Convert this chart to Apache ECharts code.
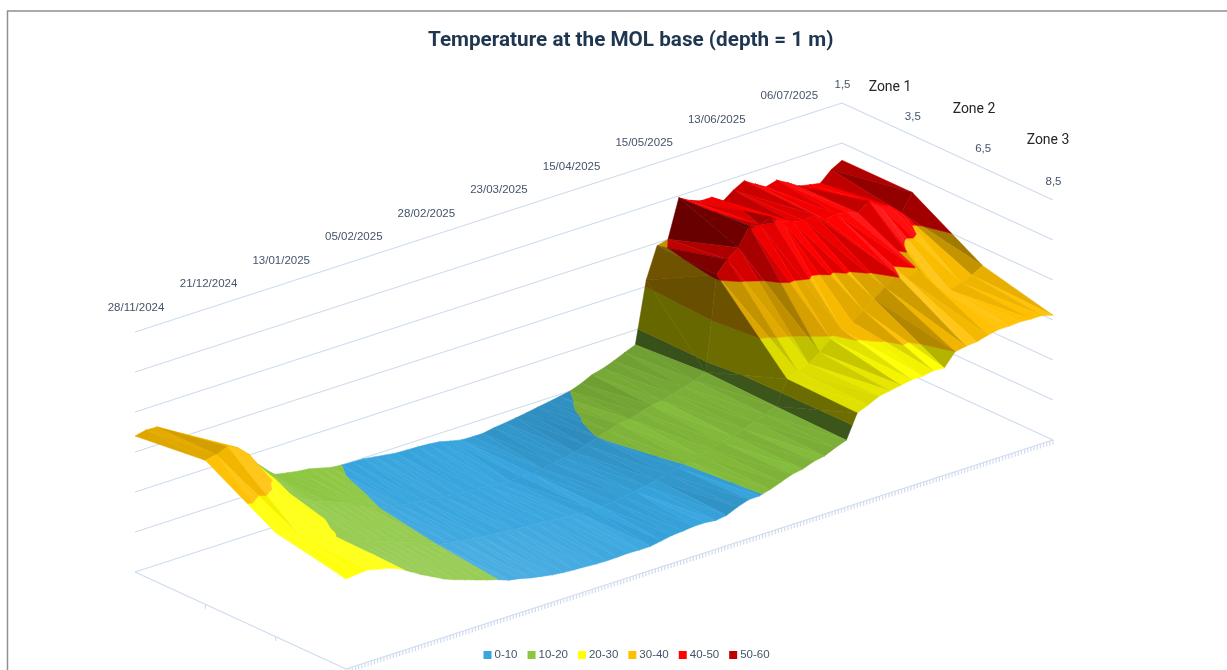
<!DOCTYPE html>
<html><head><meta charset="utf-8">
<style>html,body{margin:0;padding:0;background:#fff}#c{width:1227px;height:670px}</style>
<script src="https://cdn.jsdelivr.net/npm/echarts@6/dist/echarts.min.js"></script>
</head><body><div id="c"></div>
<script>
const titleText = 'Temperature at the MOL base (depth = 1 m)';
const dateLabels = ['28/11/2024','21/12/2024','13/01/2025','05/02/2025','28/02/2025','23/03/2025','15/04/2025','15/05/2025','13/06/2025','06/07/2025'];
const depthLabels = ['1,5','3,5','6,5','8,5'];
const zoneLabels = ['Zone 1','Zone 2','Zone 3'];
const bandNames = ['0-10','10-20','20-30','30-40','40-50','50-60'];
const bandColors = ['#37a5de','#8cc63f','#ffff00','#ffc000','#ff0000','#c00000'];
// temperature along time at each depth
const depth15 = [34,34.6,34.5,31,29,27,26,24.5,23.5,22.5,20.5,17,13.5,13,12.5,12,11.7,11,10.3,10,9.9,9.8,9.4,9,8.6,8.5,8.4,8.2,7.9,7.2,6.6,6.5,6.5,7,7.3,7.7,8.1,8.6,9,9.5,10,11,12.3,13,14,15.2,16.3,31.6,39.3,40,49.5,48,47,47,45,47,48.5,46.8,45.2,46,44.5,42.8,42.2,41.7,44.2,45.7];
const depth35 = [36,36.5,37.7,36.5,34,30,26.5,23,20,18.5,17,16,15,14,12.5,11,10,9.4,8.9,8.6,8.2,8,7.6,7.4,7,6.9,6.6,6.3,6.2,6.5,6.3,6.6,7.2,7.6,8.1,9,10,10.8,11.6,11.9,12.8,13.6,13.9,14.7,15.5,16.3,17.5,41,44,46,50.5,50,51,49,48,47.5,48,46,46.5,46,45,47,45,44,41.5,45.7];
const depth65 = [26,25,24,23,22,20.8,19.4,18.2,17,16,15,14,13,12,11,9.8,9.4,8.9,8.6,8.2,8,7.8,7.4,7.2,7.1,6.8,6.6,6.4,6.1,6.3,6,6.4,6.8,7.2,7.7,8.3,8.9,9.6,10.3,11,11.6,12.4,13.1,14,15,15.9,17,23,24,25,27,29.5,31,32,34,36,38,40.5,38.5,39.8,36,33,32,33,34,35.5];
const depth85 = [22.5,22.8,23,22.3,21.7,20.6,19,17.4,16,14.6,13.5,12.6,11.7,10.8,10,9,8.5,7.8,7.3,6.8,6.5,6.3,6.2,6,5.9,6,6.1,6,6,6.5,7,7.2,7.5,7.5,7.2,7.6,8.8,9.7,9.8,10.5,11.5,12.5,13,14,14.5,15.7,16.7,22.6,23.7,25,25.5,26,26.5,26.5,27,26.8,30,30.5,30.7,31.5,32,32,32.2,32,32,31.2];
const surface = [depth15, depth35, depth65, depth85];
const valueTicks = [0,10,20,30,40,50,60];

// oblique view of the 3D box onto the flat plane of the hidden axes
const TICKS = 224, LABEL_EVERY = 23;
function proj(t,d,v){ return [135+707*t+211*d, 572-229*t+97*d-4*v]; }

const rows = depth15.length, cols = surface.length;
const world = {lt:3, ld:1};
const L = (function(){const a=[.4,.35,.8],n=Math.hypot(a[0],a[1],a[2]);return a.map(x=>x/n);})();
function normal(a,b,c){
  const ux=(b[0]-a[0])*world.lt, uy=(b[1]-a[1])*world.ld, uz=(b[2]-a[2])/60;
  const wx=(c[0]-a[0])*world.lt, wy=(c[1]-a[1])*world.ld, wz=(c[2]-a[2])/60;
  let nx=uy*wz-uz*wy, ny=uz*wx-ux*wz, nz=ux*wy-uy*wx;
  if(nz<0){nx=-nx;ny=-ny;nz=-nz;}
  const m=Math.hypot(nx,ny,nz)||1;
  return [nx/m,ny/m,nz/m];
}
function lit(n){ return 0.42+0.7*Math.max(0,n[0]*L[0]+n[1]*L[1]+n[2]*L[2]); }
function tint(hex,f){
  const r=parseInt(hex.slice(1,3),16),g=parseInt(hex.slice(3,5),16),b=parseInt(hex.slice(5,7),16);
  const m=x=>Math.round(f<=1? x*f : x+(255-x)*Math.min(.16,(f-1)*1.2));
  return 'rgb('+m(r)+','+m(g)+','+m(b)+')';
}
function clip(poly,val,keepAbove){
  const out=[];
  for(let i=0;i<poly.length;i++){
    const p=poly[i],q=poly[(i+1)%poly.length];
    const pin=keepAbove?p[2]>=val:p[2]<=val, qin=keepAbove?q[2]>=val:q[2]<=val;
    if(pin) out.push(p);
    if(pin!==qin){const k=(val-p[2])/(q[2]-p[2]);out.push([p[0]+k*(q[0]-p[0]),p[1]+k*(q[1]-p[1]),val]);}
  }
  return out;
}
const pieces = bandNames.map(()=>[]);
let order = 10;
function addTri(a,b,c,quadLit){
  const triLit=lit(normal(a,b,c));
  const depthTone=.95+.08*(a[1]+b[1]+c[1])/3;
  const f=(quadLit+.45*(triLit-quadLit))*depthTone;
  for(let k=0;k<bandNames.length;k++){
    let poly=clip([a,b,c],k*10,true);
    if(poly.length>2) poly=clip(poly,k*10+10,false);
    if(poly.length>2) pieces[k].push({poly,fill:tint(bandColors[k],f),z:order});
  }
  order++;
}
const V=(r,c)=>[r/(rows-1),c/(cols-1),surface[c][r]];
for(let i=rows-2;i>=0;i--){
  for(let j=0;j<cols-1;j++){
    const a=V(i,j),b=V(i+1,j),c=V(i+1,j+1),e=V(i,j+1);
    const q=(lit(normal(a,b,c))+lit(normal(a,e,c))+lit(normal(a,b,e))+lit(normal(b,c,e)))/4;
    if(Math.abs(a[2]-c[2])<=Math.abs(b[2]-e[2])){
      addTri(a,b,c,q); addTri(a,e,c,q);
    }else{
      addTri(b,c,e,q); addTri(a,b,e,q);
    }
  }
}

const surfaceSeries = bandNames.map((name,k)=>({
  type:'custom',name,coordinateSystem:'cartesian2d',animation:false,silent:true,progressive:0,
  itemStyle:{color:bandColors[k]},
  data:pieces[k].map((p,n)=>[n]),
  encode:{x:0,y:0},
  renderItem(params,api){
    const p=pieces[k][params.dataIndex];
    return {type:'polygon',z2:p.z,silent:true,
      shape:{points:p.poly.map(q=>api.coord(proj(q[0],q[1],q[2])))},
      style:{fill:p.fill,stroke:p.fill,lineWidth:.5}};
  }
}));

const LINE='#cfdcee';
const lines=[];
valueTicks.forEach(v=>{ lines.push([0,0,v,1,0,v]); lines.push([1,0,v,1,1,v]); });
lines.push([0,0,0,0,1,0]); lines.push([0,1,0,1,1,0]);
for(let i=0;i<=TICKS;i++) lines.push([i/TICKS,1,0,i/TICKS,1,-1.1]);
for(let j=1;j<cols-1;j++) lines.push([0,j/(cols-1),0,0,j/(cols-1),-1.1]);
const frameSeries={
  type:'custom',coordinateSystem:'cartesian2d',animation:false,silent:true,progressive:0,
  data:lines.map((l,i)=>[i]),encode:{x:0,y:0},
  renderItem(params,api){
    const l=lines[params.dataIndex];
    const a=api.coord(proj(l[0],l[1],l[2])),b=api.coord(proj(l[3],l[4],l[5]));
    return {type:'line',z2:1,silent:true,shape:{x1:a[0],y1:a[1],x2:b[0],y2:b[1]},style:{stroke:LINE,lineWidth:1.2}};
  }
};
const labels=[];
dateLabels.forEach((s,i)=>labels.push([s,i*LABEL_EVERY/TICKS,0,60,1,-24.5]));
depthLabels.forEach((s,j)=>labels.push([s,1,j/(cols-1),60,0.5,-18.5]));
const labelSeries={
  type:'custom',coordinateSystem:'cartesian2d',animation:false,silent:true,progressive:0,
  data:labels.map((l,i)=>[i]),encode:{x:0,y:0},
  renderItem(params,api){
    const l=labels[params.dataIndex];
    const c=api.coord(proj(l[1],l[2],l[3]));
    return {type:'text',z2:1,silent:true,x:c[0]+l[4],y:c[1]+l[5],
      style:{text:l[0],fill:'#44546a',font:'11.5px "Liberation Sans"',align:'center',verticalAlign:'middle'}};
  }
};
const zoneAt=[[890,87],[974,109],[1048,140]];
const chart=echarts.init(document.getElementById('c'),null,{renderer:'canvas'});
chart.setOption({
  animation:false,backgroundColor:'#fff',
  title:{text:titleText,left:423,top:25,
    textStyle:{fontFamily:'Roboto',fontWeight:'bold',fontSize:20.7,color:'#1f3650'}},
  legend:{bottom:4,left:478.5,data:bandNames,icon:'rect',itemWidth:8,itemHeight:8,itemGap:10,
    textStyle:{fontFamily:'Liberation Sans',fontSize:11.5,color:'#44546a',padding:[0,0,0,-2]},selectedMode:false},
  grid:{left:0,right:0,top:0,bottom:0},
  xAxis:{type:'value',min:0,max:1227,show:false},
  yAxis:{type:'value',min:0,max:670,inverse:true,show:false},
  graphic:[
    {type:'polyline',silent:true,z:0,shape:{points:[[7.5,672],[7.5,11],[1228,11]]},style:{stroke:'#8f8f8f',lineWidth:1.5,fill:null}},
    ...zoneLabels.map((s,i)=>({type:'text',silent:true,x:zoneAt[i][0],y:zoneAt[i][1],
      style:{text:s,fill:'#262626',font:'14px "Roboto"',align:'center',verticalAlign:'middle'}}))
  ],
  series:[frameSeries,labelSeries,...surfaceSeries]
});
</script></body></html>
